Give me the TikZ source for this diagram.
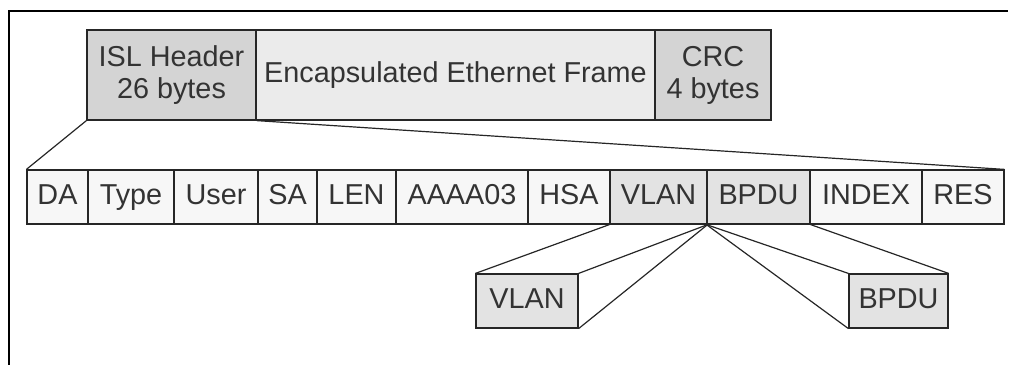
\documentclass[tikz,border=0pt]{standalone}
\usepackage{fontspec}
\setmainfont{Liberation Sans}
\begin{document}
\begin{tikzpicture}[x=0.5pt,y=-0.5pt,
  cell/.style={draw=black!85, line width=0.6pt, fill=white!97!black, inner sep=0pt,
    text=black!80, font=\fontsize{14.4}{16}\selectfont, align=center,
    minimum height=27pt},
  field/.style={cell, text height=10.4pt, text depth=2.6pt},
  hdr/.style={cell, minimum height=45pt},
  dark/.style={fill=black!17},
  light/.style={fill=black!8},
  mid/.style={fill=black!11},
  conn/.style={draw=black!85, line width=0.6pt},
  frameline/.style={draw=black, line width=1.4pt}]
\useasboundingbox (0,0) rectangle (1010,364);
% frame
\coordinate (fa) at (9,366);
\coordinate (fb) at (9,11);
\coordinate (fc) at (1008,11);
\draw[frameline] (fa) -- (fb) -- (fc);
% top row
\node[hdr, dark, minimum width=84.5pt] (isl) at (171.5,75) {ISL Header\\26 bytes};
\node[hdr, light, minimum width=199.5pt] (enc) at (455.5,75) {Encapsulated Ethernet Frame};
\node[hdr, dark, minimum width=58pt] (crc) at (713,75) {CRC\\4 bytes};
% second row
\node[field, minimum width=30.5pt] (da) at (57.5,197) {DA};
\node[field, minimum width=43pt] (type) at (131,197) {Type};
\node[field, minimum width=42pt] (user) at (216,197) {User};
\node[field, minimum width=29.5pt] (sa) at (287.5,197) {SA};
\node[field, minimum width=39.5pt] (len) at (356.5,197) {LEN};
\node[field, minimum width=66pt] (aaaa) at (462,197) {AAAA03};
\node[field, minimum width=41pt] (hsa) at (569,197) {HSA};
\node[field, mid, minimum width=48.5pt] (vlan) at (658.5,197) {VLAN};
\node[field, mid, minimum width=51.5pt] (bpdu) at (758.5,197) {BPDU};
\node[field, minimum width=56pt] (index) at (866,197) {INDEX};
\node[field, minimum width=41pt] (res) at (963,197) {RES};
% expanded boxes
\node[field, mid, minimum width=51pt] (vlanb) at (527,301) {VLAN};
\node[field, mid, minimum width=49.5pt] (bpdub) at (898.5,301) {BPDU};
% connectors
\draw[conn] (isl.south west) -- (da.north west);
\draw[conn] (isl.south east) -- (res.north east);
\draw[conn] (vlan.south west) -- (vlanb.north west);
\draw[conn] (vlan.south east) -- (vlanb.north east);
\draw[conn] (vlan.south east) -- (vlanb.south east);
\draw[conn] (bpdu.south west) -- (bpdub.north west);
\draw[conn] (bpdu.south west) -- (bpdub.south west);
\draw[conn] (bpdu.south east) -- (bpdub.north east);
\end{tikzpicture}
\end{document}
